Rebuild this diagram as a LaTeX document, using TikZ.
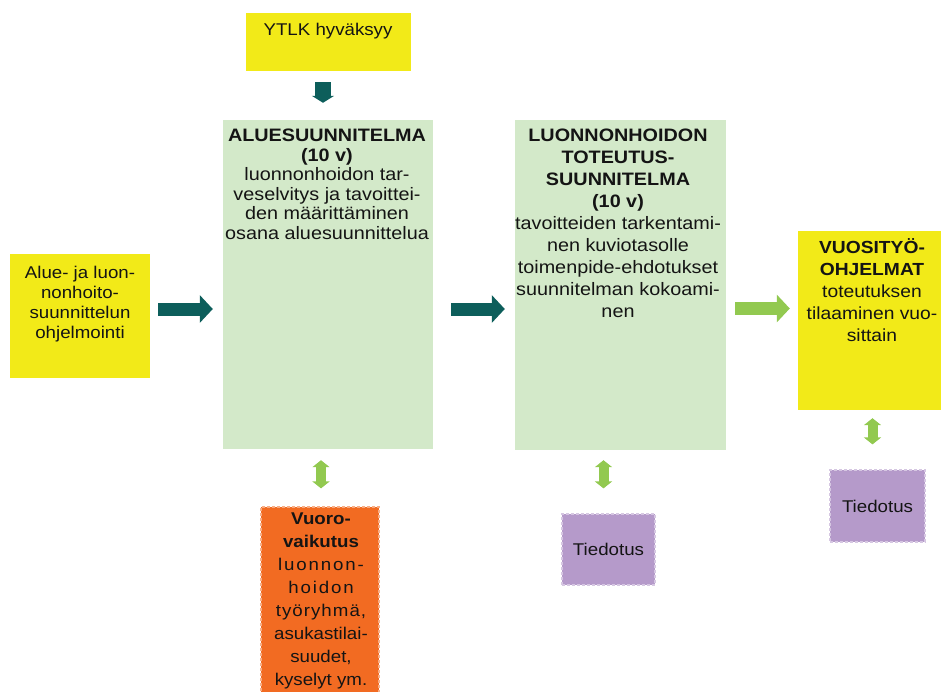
\documentclass[tikz,border=0pt]{standalone}
\usepackage{fontspec}
\setmainfont{Liberation Sans}[FakeStretch=1.1]
\usetikzlibrary{arrows.meta}

\definecolor{boxyellow}{RGB}{242,234,24}
\definecolor{boxgreen}{RGB}{211,233,201}
\definecolor{arrowteal}{RGB}{13,94,91}
\definecolor{arrowlime}{RGB}{146,201,80}
\definecolor{boxorange}{RGB}{242,107,34}
\definecolor{boxpurple}{RGB}{181,154,202}
\definecolor{inktext}{RGB}{20,20,20}

\begin{document}
\begin{tikzpicture}[x=1pt,y=-1pt,
  panel/.style={rectangle, inner sep=0pt},
  yellowbox/.style={panel, fill=boxyellow},
  greenbox/.style={panel, fill=boxgreen},
  orangebox/.style={panel, fill=boxorange, draw=boxorange!55!white, line width=1.2pt, dash pattern=on 3pt off 2pt},
  purplebox/.style={panel, fill=boxpurple, draw=boxpurple!55!white, line width=1.2pt, dash pattern=on 3pt off 2pt, text=inktext},
  boxtext/.style={anchor=north, align=center, inner sep=0pt, text=inktext},
  flow/.style={line width=13pt, -{Triangle[length=13pt,width=27pt]}},
  bothway/.style={arrowlime, line width=10pt, {Triangle[length=7pt,width=17pt]}-{Triangle[length=7pt,width=17pt]}}
]
\useasboundingbox (0,0) rectangle (941,691);

% Boxes
\node[yellowbox, minimum width=165pt, minimum height=58pt] (ytlk) at (328.5,42) {};
\node[boxtext, font=\fontsize{17}{19}\selectfont] (ytlktext) at (328,23) {YTLK hyväksyy};

\node[yellowbox, minimum width=140pt, minimum height=124pt] (prog) at (80,316) {};
\node[boxtext, font=\fontsize{17}{20}\selectfont] (progtext) at (80,266)
  {Alue- ja luon-\\nonhoito-\\suunnittelun\\ohjelmointi};

\node[greenbox, minimum width=210pt, minimum height=329pt] (alue) at (328,284.5) {};
\node[boxtext, font=\fontsize{18}{19.5}\selectfont] (aluetext) at (327,129)
  {\textbf{ALUESUUNNITELMA}\\\textbf{(10 v)}\\luonnonhoidon tar-\\veselvitys ja tavoittei-\\den määrittäminen\\osana aluesuunnittelua};

\node[greenbox, minimum width=211pt, minimum height=330pt] (tot) at (620.5,285) {};
\node[boxtext, font=\fontsize{18}{22}\selectfont] (tottext) at (618,129)
  {\textbf{LUONNONHOIDON}\\\textbf{TOTEUTUS-}\\\textbf{SUUNNITELMA}\\\textbf{(10 v)}\\tavoitteiden tarkentami-\\nen kuviotasolle\\toimenpide-ehdotukset\\suunnitelman kokoami-\\nen};

\node[yellowbox, minimum width=147pt, minimum height=179pt] (vuosi) at (871.5,320.5) {};
\node[boxtext, font=\fontsize{17.5}{22}\selectfont] (vuositext) at (872,238)
  {\textbf{VUOSITYÖ-}\\\textbf{OHJELMAT}\\toteutuksen\\tilaaminen vuo-\\sittain};

\node[orangebox, minimum width=118pt, minimum height=193pt] (vuoro) at (320,603.5) {};
\node[boxtext, font=\fontsize{17}{23}\selectfont] (vuorotext) at (321,513)
  {\textbf{Vuoro-}\\\textbf{vaikutus}\\{\addfontfeatures{LetterSpace=11}luonnon-}\\{\addfontfeatures{LetterSpace=11}hoidon}\\{\addfontfeatures{LetterSpace=6}työryhmä,}\\asukastilai-\\suudet,\\kyselyt ym.};

\node[purplebox, minimum width=93pt, minimum height=71pt, font=\fontsize{17}{20}\selectfont] (tiedmid) at (608.5,549.5) {Tiedotus};
\node[purplebox, minimum width=95pt, minimum height=72pt, font=\fontsize{17}{20}\selectfont] (tiedright) at (877.5,506) {Tiedotus};

% Flow arrows
\draw[flow, arrowteal, shorten <=11pt, shorten >=17pt, line width=16pt, -{Triangle[length=7pt,width=22pt]}]
  ([xshift=-5.5pt]ytlk.south) -- ([xshift=-5pt]alue.north);
\draw[flow, arrowteal, shorten <=8pt, shorten >=10pt] ([yshift=7pt]prog.east) -- ([yshift=-24.5pt]alue.west);
\draw[flow, arrowteal, shorten <=18pt, shorten >=10pt] ([yshift=-24.5pt]alue.east) -- ([yshift=-24pt]tot.west);
\draw[flow, arrowlime, shorten <=9pt, shorten >=8pt] ([yshift=-23.5pt]tot.east) -- ([yshift=12pt]vuosi.west);

% Two-way links
\draw[bothway, shorten <=11pt, shorten >=18pt] ([xshift=-7pt]alue.south) -- ([xshift=1pt]vuoro.north);
\draw[bothway, shorten <=10pt, shorten >=25pt] ([xshift=-17pt]tot.south) -- ([xshift=-5pt]tiedmid.north);
\draw[bothway, shorten <=8pt, shorten >=25pt] ([xshift=1pt]vuosi.south) -- ([xshift=-5pt]tiedright.north);

\end{tikzpicture}
\end{document}
